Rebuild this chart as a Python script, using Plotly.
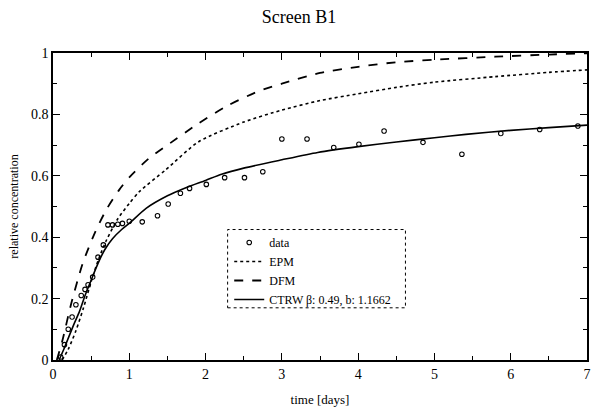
import plotly.graph_objects as go

# Measured breakthrough data (time in days, relative concentration)
data_t = [0.10, 0.15, 0.20, 0.25, 0.30, 0.37, 0.42, 0.46, 0.52, 0.59, 0.66, 0.72,
          0.78, 0.85, 0.91, 1.00, 1.17, 1.37, 1.51, 1.67, 1.79, 2.01, 2.25, 2.51,
          2.75, 3.00, 3.33, 3.68, 4.01, 4.34, 4.85, 5.36, 5.87, 6.38, 6.88]
data_c = [0.01, 0.05, 0.10, 0.14, 0.18, 0.21, 0.23, 0.245, 0.27, 0.335, 0.375, 0.44,
          0.44, 0.442, 0.445, 0.452, 0.45, 0.47, 0.508, 0.543, 0.559, 0.572, 0.594, 0.594,
          0.613, 0.72, 0.72, 0.692, 0.703, 0.746, 0.709, 0.67, 0.738, 0.751, 0.762]

# Model curves
epm_t = [0.12, 0.20, 0.30, 0.40, 0.50, 0.60, 0.70, 0.85, 1.00, 1.13, 1.48, 1.91,
         2.50, 3.00, 3.50, 4.00, 4.50, 5.00, 5.80, 6.50, 7.00]
epm_c = [0.0, 0.035, 0.095, 0.17, 0.255, 0.33, 0.39, 0.46, 0.51, 0.548, 0.62, 0.711,
         0.775, 0.814, 0.845, 0.867, 0.888, 0.905, 0.923, 0.937, 0.945]

dfm_t = [0.05, 0.12, 0.24, 0.39, 0.55, 0.70, 0.87, 1.00, 1.25, 1.50, 1.91, 2.30,
         2.69, 3.00, 3.50, 4.00, 4.50, 5.00, 5.80, 6.50, 7.00]
dfm_c = [0.0, 0.06, 0.185, 0.315, 0.415, 0.49, 0.555, 0.595, 0.655, 0.70, 0.771, 0.83,
         0.875, 0.90, 0.935, 0.955, 0.97, 0.978, 0.988, 0.995, 0.999]

ctrw_t = [0.08, 0.15, 0.26, 0.35, 0.42, 0.50, 0.59, 0.68, 0.78, 0.90, 1.00, 1.22,
          1.50, 1.75, 2.00, 2.21, 2.50, 3.00, 3.47, 4.00, 4.50, 5.00, 5.41, 6.00,
          6.50, 7.00]
ctrw_c = [0.0, 0.04, 0.108, 0.16, 0.21, 0.26, 0.315, 0.36, 0.395, 0.425, 0.445, 0.494,
          0.535, 0.562, 0.585, 0.605, 0.625, 0.652, 0.676, 0.695, 0.71, 0.724, 0.735,
          0.748, 0.757, 0.765]

x_ticks = [0, 1, 2, 3, 4, 5, 6, 7]
y_ticks = [0, 0.2, 0.4, 0.6, 0.8, 1]
y_tick_text = ["0", "0.2", "0.4", "0.6", "0.8", "1"]

FONT = "Liberation Serif, Times New Roman, serif"

fig = go.Figure()
fig.add_trace(go.Scatter(
    x=data_t, y=data_c, mode="markers", name="data",
    marker=dict(symbol="circle-open", size=4.5, color="black", line=dict(width=1.1)),
))
fig.add_trace(go.Scatter(
    x=epm_t, y=epm_c, mode="lines", name="EPM", line_shape="spline",
    line=dict(color="black", width=1.6, dash="dot", smoothing=0.7),
))
fig.add_trace(go.Scatter(
    x=dfm_t, y=dfm_c, mode="lines", name="DFM", line_shape="spline",
    line=dict(color="black", width=1.8, dash="dash", smoothing=0.7),
))
fig.add_trace(go.Scatter(
    x=ctrw_t, y=ctrw_c, mode="lines", name="CTRW β: 0.49, b: 1.1662",
    line_shape="spline", line=dict(color="black", width=1.6, smoothing=0.7),
))

axis_common = dict(
    showgrid=False, zeroline=False, showline=True, linecolor="black", linewidth=1.5,
    mirror="ticks", ticks="inside", ticklen=7, tickcolor="black", tickwidth=1,
    tickfont=dict(family=FONT, size=14, color="black"),
)

fig.update_xaxes(
    range=[0, 7], tickvals=x_ticks, ticktext=[str(v) for v in x_ticks],
    minor=dict(dtick=0.5, ticks="inside", ticklen=4, tickcolor="black"),
    title=dict(text="time [days]", font=dict(family=FONT, size=13, color="black"), standoff=14),
    **axis_common,
)
fig.update_yaxes(
    range=[0, 1], tickvals=y_ticks, ticktext=y_tick_text,
    minor=dict(dtick=0.1, ticks="inside", ticklen=4, tickcolor="black"),
    title=dict(text="relative concentration", font=dict(family=FONT, size=12, color="black"), standoff=10),
    **axis_common,
)

# Legend frame drawn as a dotted rectangle
fig.add_shape(type="rect", xref="paper", yref="paper",
              x0=0.327, x1=0.66, y0=0.17, y1=0.425,
              line=dict(color="black", width=1, dash="dot"), fillcolor="rgba(0,0,0,0)")

fig.update_layout(
    width=598, height=415,
    margin=dict(l=53, r=7, t=53, b=55),
    paper_bgcolor="white", plot_bgcolor="white",
    title=dict(text="Screen B1", x=0.5, xanchor="center", y=0.975, yanchor="top",
               font=dict(family=FONT, size=18, color="black")),
    legend=dict(
        x=0.33, y=0.43, xanchor="left", yanchor="top",
        bgcolor="rgba(0,0,0,0)", borderwidth=0,
        font=dict(family=FONT, size=12, color="black"),
        itemwidth=30, tracegroupgap=0,
    ),
    showlegend=True,
)

fig.write_html("out.html")
